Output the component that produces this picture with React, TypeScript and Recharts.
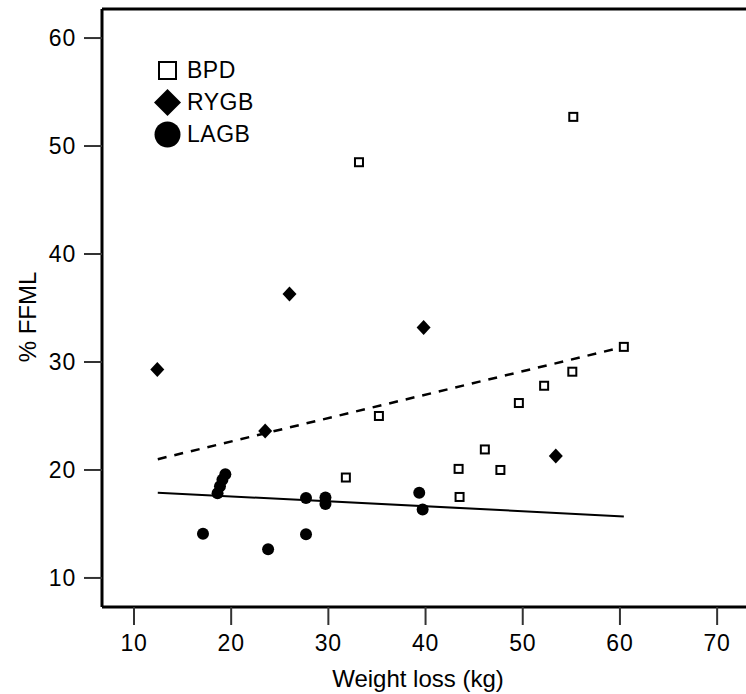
import React from 'react';
import { ScatterChart, Scatter, XAxis, YAxis, ReferenceLine, Legend, Label } from 'recharts';

const X_TICKS = [10, 20, 30, 40, 50, 60, 70];
const Y_TICKS = [10, 20, 30, 40, 50, 60];
const X_DOMAIN = [6.71, 72.97];
const Y_DOMAIN = [7.31, 62.69];

const BPD_X = [33.15, 55.2, 60.4, 55.1, 52.2, 49.6, 35.2, 46.1, 31.8, 43.4, 47.7, 43.5];
const BPD_Y = [48.5, 52.7, 31.4, 29.1, 27.8, 26.2, 25.0, 21.9, 19.3, 20.1, 20.0, 17.5];

const RYGB_X = [12.4, 26.0, 39.8, 23.5, 53.4];
const RYGB_Y = [29.3, 36.3, 33.2, 23.6, 21.3];

const LAGB_X = [19.4, 19.1, 18.85, 18.6, 17.1, 23.8, 27.7, 27.7, 29.7, 29.7, 39.35, 39.7];
const LAGB_Y = [19.6, 19.1, 18.5, 17.85, 14.1, 12.65, 14.05, 17.4, 17.45, 16.85, 17.9, 16.35];

const BPD_FIT_X = [12.45, 60.4];
const BPD_FIT_Y = [21.0, 31.4];
const ALL_FIT_X = [12.45, 60.4];
const ALL_FIT_Y = [17.9, 15.7];

const LEGEND_ITEMS = ['BPD', 'RYGB', 'LAGB'];

const zip = (xs: number[], ys: number[]) => xs.map((x, i) => ({ x, y: ys[i] }));
const bpdData = zip(BPD_X, BPD_Y);
const rygbData = zip(RYGB_X, RYGB_Y);
const lagbData = zip(LAGB_X, LAGB_Y);

const FONT = '"Liberation Sans", Arial, Helvetica, sans-serif';

const SquareShape = (p: any) => (
  <rect x={p.cx - 4} y={p.cy - 4} width={8} height={8} fill="#fff" stroke="#000" strokeWidth={2} />
);
const DiamondShape = (p: any) => (
  <polygon
    points={`${p.cx},${p.cy - 7.5} ${p.cx + 7},${p.cy} ${p.cx},${p.cy + 7.5} ${p.cx - 7},${p.cy}`}
    fill="#000"
  />
);
const CircleShape = (p: any) => <circle cx={p.cx} cy={p.cy} r={6} fill="#000" />;

const LegendIcon = ({ name }: { name: string }) => {
  if (name === 'BPD')
    return <rect x={5} y={5} width={17} height={17} fill="#fff" stroke="#000" strokeWidth={2} />;
  if (name === 'RYGB') return <polygon points="13.5,0 27,13.5 13.5,27 0,13.5" fill="#000" />;
  return <circle cx={13.5} cy={13.5} r={13} fill="#000" />;
};

const LegendContent = () => (
  <div style={{ fontFamily: FONT, fontSize: 23, color: '#000', letterSpacing: 0.5 }}>
    {LEGEND_ITEMS.map((name) => (
      <div key={name} style={{ display: 'flex', alignItems: 'center', height: 32 }}>
        <svg width={27} height={27} style={{ display: 'block' }}>
          <LegendIcon name={name} />
        </svg>
        <span style={{ marginLeft: 6, lineHeight: '32px' }}>{name}</span>
      </div>
    ))}
  </div>
);

const YTitle = () => (
  <text
    x={27}
    y={317}
    transform="rotate(-90, 27, 317)"
    textAnchor="middle"
    dominantBaseline="central"
    fontFamily={FONT}
    fontSize={24}
    fill="#000"
  >
    % FFML
  </text>
);

const tickStyle = { fill: '#000', fontSize: 23, fontFamily: FONT, letterSpacing: 0.8 };

export default function App() {
  return (
    <div style={{ position: 'absolute', left: 0, top: 0, background: '#fff' }}>
      <ScatterChart width={746} height={694} margin={{ top: 9, right: 0, bottom: 0, left: 0 }}>
        <XAxis
          dataKey="x"
          type="number"
          domain={X_DOMAIN}
          ticks={X_TICKS}
          allowDataOverflow
          height={87}
          tickSize={18}
          tickMargin={10}
          axisLine={{ stroke: '#000', strokeWidth: 3 }}
          tickLine={{ stroke: '#333', strokeWidth: 2 }}
          tick={tickStyle}
        >
          <Label
            value="Weight loss (kg)"
            position="insideBottom"
            offset={7}
            dx={-6}
            style={{ fill: '#000', fontSize: 24, fontFamily: FONT }}
          />
        </XAxis>
        <YAxis
          dataKey="y"
          type="number"
          domain={Y_DOMAIN}
          ticks={Y_TICKS}
          allowDataOverflow
          width={102}
          tickSize={18}
          tickMargin={8}
          axisLine={{ stroke: '#000', strokeWidth: 3 }}
          tickLine={{ stroke: '#333', strokeWidth: 2 }}
          tick={tickStyle}
          label={<YTitle />}
        />
        <ReferenceLine y={Y_DOMAIN[1]} stroke="#000" strokeWidth={3} ifOverflow="visible" />
        <ReferenceLine
          segment={zip(BPD_FIT_X, BPD_FIT_Y)}
          stroke="#000"
          strokeWidth={2.5}
          strokeDasharray="9 8"
        />
        <ReferenceLine segment={zip(ALL_FIT_X, ALL_FIT_Y)} stroke="#000" strokeWidth={2} />
        <Scatter name="BPD" data={bpdData} shape={SquareShape} isAnimationActive={false} />
        <Scatter name="RYGB" data={rygbData} shape={DiamondShape} isAnimationActive={false} />
        <Scatter name="LAGB" data={lagbData} shape={CircleShape} isAnimationActive={false} />
        <Legend
          layout="vertical"
          align="center"
          verticalAlign="middle"
          content={<LegendContent />}
          wrapperStyle={{ position: 'absolute', left: 154, top: 54, width: 'auto', height: 'auto' }}
        />
      </ScatterChart>
    </div>
  );
}
